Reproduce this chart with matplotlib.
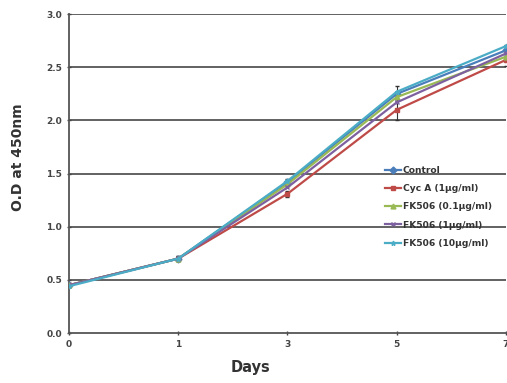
import numpy as np
import matplotlib.pyplot as plt

days = ['0', '1', '3', '5', '7']
control = [0.45, 0.70, 1.42, 2.25, 2.66]
cyca = [0.45, 0.70, 1.31, 2.10, 2.57]
fk01 = [0.45, 0.70, 1.40, 2.22, 2.60]
fk1 = [0.45, 0.70, 1.37, 2.17, 2.63]
fk10 = [0.44, 0.70, 1.43, 2.27, 2.70]
control_err = [0.02, 0.02, 0.03, 0.07, 0.05]
cyca_err = [0.02, 0.02, 0.03, 0.10, 0.06]

labels = ['Control', 'Cyc A (1\u03bcg/ml)', 'FK506 (0.1\u03bcg/ml)',
          'FK506 (1\u03bcg/ml)', 'FK506 (10\u03bcg/ml)']
colors = ['#4a7ebb', '#be4b48', '#98b954', '#7d60a0', '#4bacc6']
markers = ['D', 's', '^', 'x', '*']

x = np.arange(len(days))
fig = plt.figure(figsize=(5.07, 3.83), dpi=100)
ax = fig.add_axes([0.136, 0.1305, 0.862, 0.8325])

for yv in [0.5, 1.0, 1.5, 2.0, 2.5, 3.0]:
    ax.axhline(yv, color='#555555', lw=1.3, zorder=1)

series = [control, cyca, fk01, fk1, fk10]
errs = [control_err, cyca_err, None, None, None]
for s, e, lab, c, m in zip(series, errs, labels, colors, markers):
    if e is not None:
        ax.errorbar(x, s, yerr=e, fmt='none', ecolor='#333333',
                    elinewidth=0.8, capsize=1.5, zorder=2)
    ax.plot(x, s, color=c, marker=m, markersize=3.5, lw=1.6, label=lab,
            zorder=3)

ax.set_xlim(0, 4)
ax.set_ylim(0, 3.0)
ax.set_xticks(x)
ax.set_xticklabels(days)
ax.set_yticks([0, 0.5, 1.0, 1.5, 2.0, 2.5, 3.0])
ax.set_yticklabels(['0.0', '0.5', '1.0', '1.5', '2.0', '2.5', '3.0'])
for sp in ['top', 'right']:
    ax.spines[sp].set_visible(False)
for sp in ['left', 'bottom']:
    ax.spines[sp].set_color('#555555')
    ax.spines[sp].set_linewidth(1.3)
ax.tick_params(colors='#444444', labelsize=6.5, length=3, width=1,
               direction='inout')
for t in ax.get_xticklabels() + ax.get_yticklabels():
    t.set_fontweight('bold')
ax.set_ylabel('O.D at 450nm', fontsize=10, fontweight='bold', color='#333333')
ax.yaxis.set_label_coords(-0.100, 0.55)
ax.set_xlabel('Days', fontsize=10.5, fontweight='bold', color='#333333')
ax.xaxis.set_label_coords(0.416, -0.085)

leg = ax.legend(loc='upper left', bbox_to_anchor=(0.715, 0.535), frameon=False,
                fontsize=6.6, handlelength=1.7, handletextpad=0.2,
                labelspacing=1.0, borderaxespad=0)
for t in leg.get_texts():
    t.set_fontweight('bold')
    t.set_color('#333333')

fig.savefig('out.png', dpi=100)
